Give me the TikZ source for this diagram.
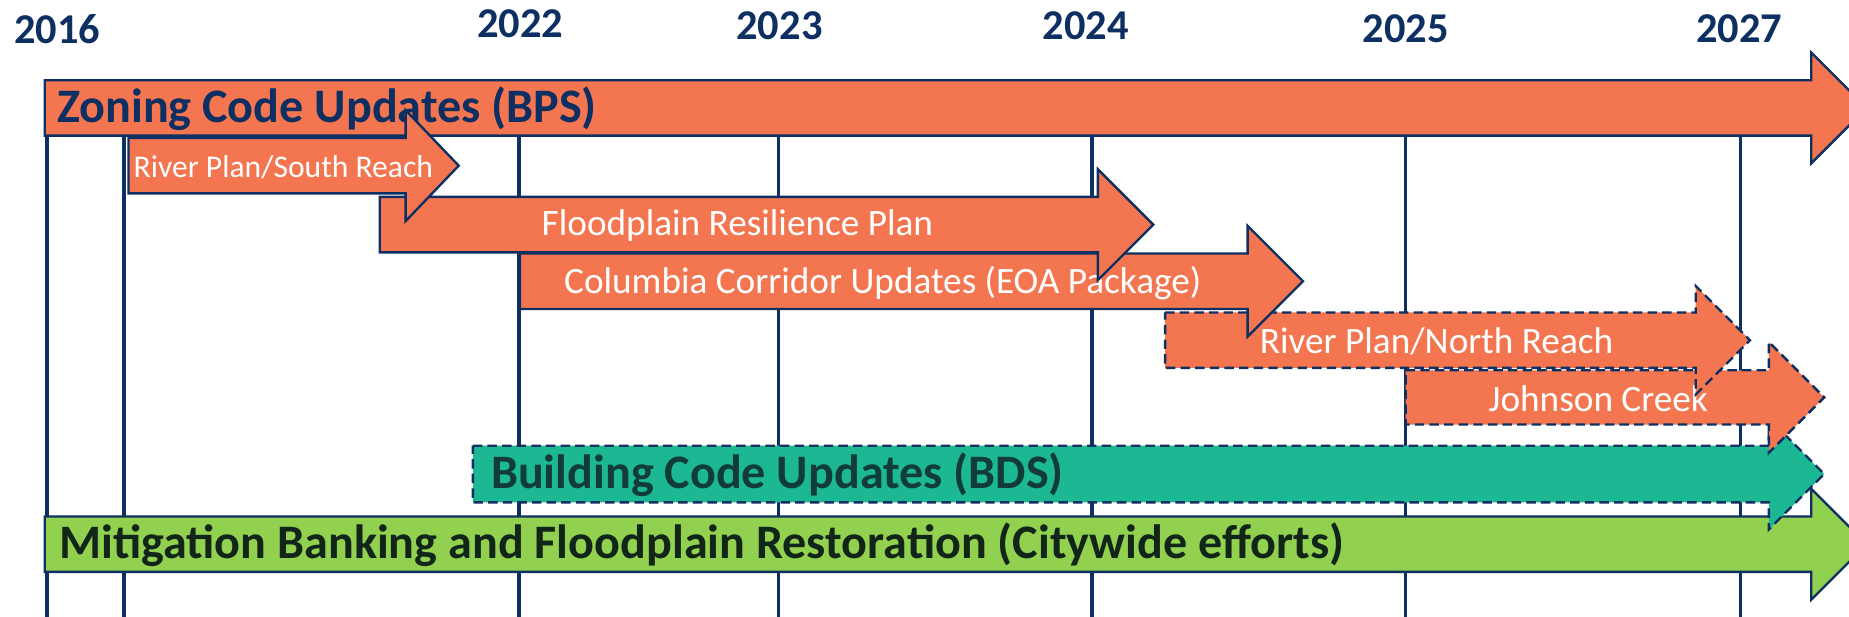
\documentclass[tikz,border=0pt]{standalone}
\usepackage{fontspec}
\setmainfont{Carlito}
\definecolor{navy}{RGB}{13,47,98}
\definecolor{arrorange}{RGB}{243,118,80}
\definecolor{arrteal}{RGB}{27,184,147}
\definecolor{arrgreen}{RGB}{146,208,80}
\definecolor{tealtext}{RGB}{18,60,55}
\definecolor{greentext}{RGB}{17,38,25}
\newcommand{\tlarrow}[7]{%
  % #1 style, #2 x0, #3 top, #4 bottom, #5 head base x, #6 head half height, #7 tip x
  \path[#1] (#2,#3) -- (#5,#3) -- (#5,{(#3+#4)/2-#6}) -- (#7,{(#3+#4)/2})
    -- (#5,{(#3+#4)/2+#6}) -- (#5,#4) -- (#2,#4) -- cycle;}
\begin{document}
\begin{tikzpicture}[x=0.5pt,y=-0.5pt,
  gridline/.style={draw=navy,line width=1.45pt},
  solidarrow/.style={fill=arrorange,draw=navy,line width=1pt,line join=miter},
  dasharrow/.style={fill=arrorange,draw=navy,line width=1pt,dash pattern=on 4pt off 2.2pt},
  tealarrow/.style={fill=arrteal,draw=navy,line width=1pt,dash pattern=on 4pt off 2.2pt},
  greenarrow/.style={fill=arrgreen,draw=navy,line width=1pt,line join=miter},
  yearlabel/.style={text=navy,font=\fontsize{18}{20}\selectfont\bfseries,inner sep=0pt},
  biglabel/.style={font=\fontsize{20.4}{24}\selectfont\bfseries,inner sep=0pt,anchor=west},
  smalllabel/.style={text=white,font=\fontsize{15.8}{19}\selectfont,inner sep=0pt,anchor=west}]
\useasboundingbox (0,0) rectangle (1568,523);
\clip (0,0) rectangle (1568,523);
% year labels
\node[yearlabel] (y2016) at (48.6,24.6) {2016};
\node[yearlabel] (y2022) at (441,20.5) {2022};
\node[yearlabel] (y2023) at (661,22) {2023};
\node[yearlabel] (y2024) at (920.6,22) {2024};
\node[yearlabel] (y2025) at (1192,24.6) {2025};
\node[yearlabel] (y2027) at (1475,24.6) {2027};
% grid lines
\foreach \gx in {40,105,440,660,926,1192,1476}
  \draw[gridline] (\gx,68) -- (\gx,523);
% arrows, bottom-most layers first
\tlarrow{solidarrow}{38}{68}{115}{1536}{47}{1583}
\node[biglabel,text=navy] (zoning) at (48,92) {Zoning Code Updates (BPS)};
\tlarrow{greenarrow}{38}{438}{485}{1536}{47}{1583}
\node[biglabel,text=greentext] (mitig) at (50,462) {Mitigation Banking and Floodplain Restoration (Citywide efforts)};
\tlarrow{tealarrow}{401}{378}{426}{1500}{47}{1547}
\node[biglabel,text=tealtext] (bds) at (416,402.5) {Building Code Updates (BDS)};
\tlarrow{dasharrow}{1192}{314}{360}{1500}{47}{1547}
\node[smalllabel] (johnson) at (1262,338.5) {Johnson Creek};
\tlarrow{dasharrow}{988}{265}{312}{1438}{46}{1484}
\node[smalllabel] (north) at (1068,289.5) {River Plan/North Reach};
\tlarrow{solidarrow}{441}{215}{262}{1058}{47}{1105}
\node[smalllabel] (columbia) at (478,240) {Columbia Corridor Updates (EOA Package)};
\tlarrow{solidarrow}{322}{167}{214}{931}{47}{978}
\node[smalllabel] (flood) at (459,191) {Floodplain Resilience Plan};
\tlarrow{solidarrow}{109}{117}{164}{344}{47}{389}
\node[smalllabel,font=\fontsize{13.4}{16}\selectfont] (south) at (113,141.5) {River Plan/South Reach};
\end{tikzpicture}
\end{document}
